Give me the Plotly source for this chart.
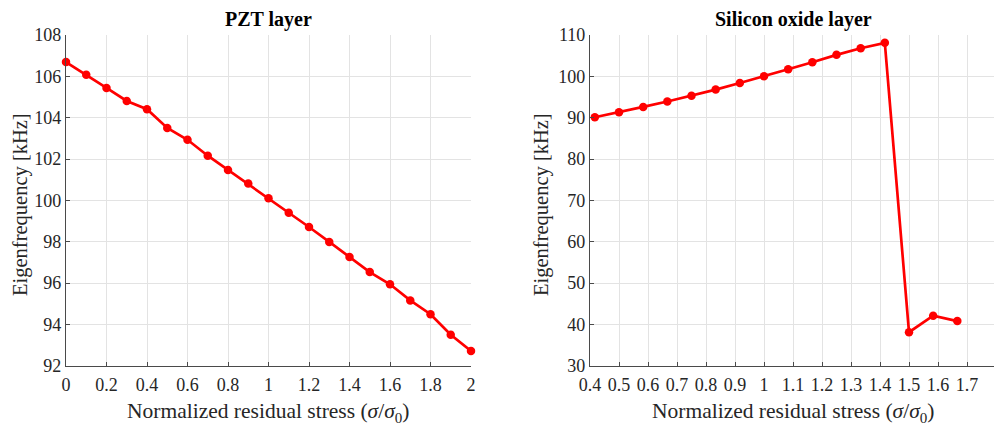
import plotly.graph_objects as go

# ---- data ----
pzt_x = [0.0, 0.1, 0.2, 0.3, 0.4, 0.5, 0.6, 0.7, 0.8, 0.9, 1.0,
         1.1, 1.2, 1.3, 1.4, 1.5, 1.6, 1.7, 1.8, 1.9, 2.0]
pzt_y = [106.69, 106.08, 105.44, 104.81, 104.41, 103.50, 102.93, 102.16, 101.47, 100.81, 100.10,
         99.40, 98.71, 97.99, 97.26, 96.53, 95.94, 95.16, 94.49, 93.50, 92.71]

sio_x = [5/12, 6/12, 7/12, 8/12, 9/12, 10/12, 11/12, 12/12, 13/12, 14/12, 15/12, 16/12,
         17/12, 18/12, 19/12, 20/12]
sio_y = [90.1, 91.3, 92.6, 93.9, 95.3, 96.8, 98.4, 100.0, 101.7, 103.4, 105.2, 106.8,
         108.1, 38.1, 42.1, 40.8]

left_xticks = [0, 0.2, 0.4, 0.6, 0.8, 1, 1.2, 1.4, 1.6, 1.8, 2]
left_xlabels = ["0", "0.2", "0.4", "0.6", "0.8", "1", "1.2", "1.4", "1.6", "1.8", "2"]
left_yticks = [92, 94, 96, 98, 100, 102, 104, 106, 108]
right_xticks = [0.4, 0.5, 0.6, 0.7, 0.8, 0.9, 1.0, 1.1, 1.2, 1.3, 1.4, 1.5, 1.6, 1.7]
right_xlabels = ["0.4", "0.5", "0.6", "0.7", "0.8", "0.9", "1", "1.1", "1.2", "1.3", "1.4", "1.5", "1.6", "1.7"]
right_yticks = [30, 40, 50, 60, 70, 80, 90, 100, 110]

titles = ["PZT layer", "Silicon oxide layer"]
xlabel = "Normalized residual stress (<i>σ</i>/<i>σ</i><sub>0</sub>)"
ylabel = "Eigenfrequency [kHz]"

# page body has an 8px default margin: figure is drawn offset by (8, 8)
OFF = 8
W, H = 1002 - OFF, 428 - OFF
def px(x):
    return (x - OFF) / W
def py(y):
    return 1 - (y - OFF) / H

FONT = "Liberation Serif, Times New Roman, serif"
RED = "#ff0000"
AX = "#4a4a4a"
GRID = "#e3e3e3"
TXT = "#262626"

fig = go.Figure()
fig.add_trace(go.Scatter(x=pzt_x, y=pzt_y, mode="lines+markers",
                         line=dict(color=RED, width=2.7),
                         marker=dict(color=RED, size=8.5),
                         xaxis="x", yaxis="y", showlegend=False, cliponaxis=False))
fig.add_trace(go.Scatter(x=sio_x, y=sio_y, mode="lines+markers",
                         line=dict(color=RED, width=2.7),
                         marker=dict(color=RED, size=8.5),
                         xaxis="x2", yaxis="y2", showlegend=False, cliponaxis=False))

ydom = [py(365.7), py(35)]
common = dict(showline=True, linecolor=AX, linewidth=1.3, showgrid=True, gridcolor=GRID,
              gridwidth=1, ticks="inside", ticklen=4, tickcolor=AX, zeroline=False,
              automargin=False,
              tickfont=dict(family=FONT, size=18, color=TXT), mirror=False)
xextra = dict(ticklabelstandoff=3)

fig.update_layout(
    width=W, height=H, margin=dict(l=0, r=0, t=0, b=0, autoexpand=False),
    paper_bgcolor="white", plot_bgcolor="white",
    xaxis=dict(domain=[px(66), px(471)], range=[0, 2], tickvals=left_xticks,
               ticktext=left_xlabels, anchor="y", **common, **xextra),
    yaxis=dict(domain=ydom, range=[92, 108], tickvals=left_yticks, anchor="x", **common),
    xaxis2=dict(domain=[px(590), px(996)], range=[0.4, 1.8], tickvals=right_xticks,
                ticktext=right_xlabels, anchor="y2", **common, **xextra),
    yaxis2=dict(domain=ydom, range=[30, 110], tickvals=right_yticks, anchor="x2", **common),
)

annos = []
for cx, t in [((66 + 471) / 2, titles[0]), ((590 + 996) / 2, titles[1])]:
    annos.append(dict(x=px(cx), y=py(19), xref="paper", yref="paper", text="<b>" + t + "</b>",
                      showarrow=False, font=dict(family=FONT, size=20, color="black"),
                      xanchor="center", yanchor="middle"))
    annos.append(dict(x=px(cx), y=py(412), xref="paper", yref="paper", text=xlabel,
                      showarrow=False, font=dict(family=FONT, size=21.5, color=TXT),
                      xanchor="center", yanchor="middle"))
for x0 in [20, 541]:
    annos.append(dict(x=px(x0), y=py(205), xref="paper", yref="paper", text=ylabel,
                      showarrow=False, textangle=-90, font=dict(family=FONT, size=20.5, color=TXT),
                      xanchor="center", yanchor="middle"))
fig.update_layout(annotations=annos)

fig.write_html("out.html")
